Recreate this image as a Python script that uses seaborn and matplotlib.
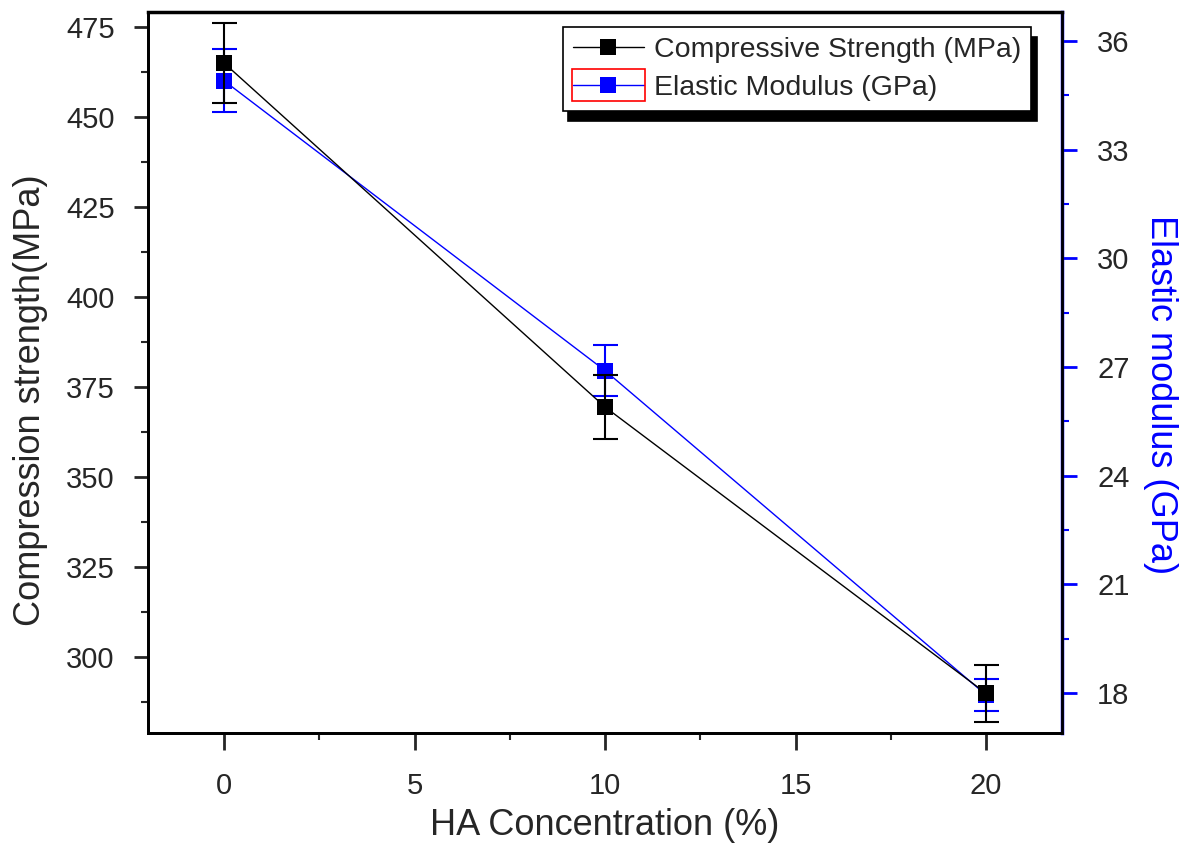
import matplotlib
matplotlib.use("Agg")
import matplotlib.pyplot as plt
import seaborn as sns
import pandas as pd
from matplotlib.ticker import MultipleLocator
from matplotlib.patches import Rectangle

# values
ha_conc = [0, 10, 20]
strength = [465.0, 369.5, 290.0]
strength_err = [11.0, 9.0, 8.0]
modulus = [34.9, 26.9, 17.95]
modulus_err = [0.87, 0.7, 0.45]

df = pd.DataFrame({"HA": ha_conc, "strength": strength, "modulus": modulus})

sns.set_style("ticks")
plt.rcParams["font.family"] = ["Liberation Sans", "DejaVu Sans"]

fig = plt.figure(figsize=(11.83, 8.5), dpi=100)
ax = fig.add_axes([0.125, 0.1376, 0.773, 0.8484])
ax2 = ax.twinx()

sns.lineplot(data=df, x="HA", y="strength", ax=ax, color="black", lw=1.0,
             marker="s", markersize=11, markeredgewidth=0, zorder=3)
ax.errorbar(ha_conc, strength, yerr=strength_err, fmt="none", ecolor="black",
            elinewidth=1.5, capsize=9, capthick=1.5, zorder=3)

sns.lineplot(data=df, x="HA", y="modulus", ax=ax2, color="blue", lw=1.0,
             marker="s", markersize=11, markeredgewidth=0, zorder=3)
ax2.errorbar(ha_conc, modulus, yerr=modulus_err, fmt="none", ecolor="blue",
             elinewidth=1.5, capsize=9, capthick=1.5, zorder=3)

ax.set_xlim(-2, 22)
ax.set_ylim(279, 479.2)
ax2.set_ylim(16.9, 36.8)

ax.xaxis.set_major_locator(MultipleLocator(5))
ax.xaxis.set_minor_locator(MultipleLocator(2.5))
ax.yaxis.set_major_locator(MultipleLocator(25))
ax.yaxis.set_minor_locator(MultipleLocator(12.5))
ax2.yaxis.set_major_locator(MultipleLocator(3))
ax2.yaxis.set_minor_locator(MultipleLocator(1.5))

for a in (ax, ax2):
    for s in a.spines.values():
        s.set_linewidth(2)
        s.set_color("black")
ax2.spines["right"].set_color("blue")
ax2.spines["right"].set_linewidth(2.5)
ax.spines["top"].set_linewidth(2.5)

ax.tick_params(axis="y", which="major", direction="out", length=10, width=2,
               labelsize=21, pad=14)
ax.tick_params(axis="both", which="minor", direction="out", length=5, width=1.5)
ax.tick_params(axis="x", which="major", direction="out", length=12, width=2,
               pad=16, labelsize=21)
ax2.tick_params(axis="y", which="major", direction="out", length=11, width=2,
                color="blue", labelsize=21, pad=14)
ax2.tick_params(axis="y", which="minor", direction="out", length=5, width=1.5,
                color="blue")

ax.set_xlabel("HA Concentration (%)", fontsize=26, labelpad=6)
ax.set_ylabel("Compression strength(MPa)", fontsize=26, va="center")
ax2.set_ylabel("Elastic modulus (GPa)", fontsize=26, color="blue", rotation=270,
               va="center")
ax.yaxis.set_label_coords(-0.128, 0.462)
ax2.yaxis.set_label_coords(1.107, 0.469)

h1 = ax.get_lines()[0]
h2 = ax2.get_lines()[0]
leg = ax.legend([h1, h2], ["Compressive Strength (MPa)", "Elastic Modulus (GPa)"],
                loc="upper right", bbox_to_anchor=(0.966, 0.979), fontsize=20.5,
                frameon=True, fancybox=False, edgecolor="black", framealpha=1,
                handlelength=2.5, borderpad=0.35, labelspacing=0.42,
                handletextpad=0.35, borderaxespad=0.0,
                shadow={"color": "black", "alpha": 1, "ox": 4, "oy": -7})
leg.get_frame().set_linewidth(1.2)
leg.set_zorder(10)
ax.set_zorder(ax2.get_zorder() + 1)
ax.patch.set_visible(False)

# red outline around the second legend handle, as in the original
fig.canvas.draw()
hl = leg.get_lines()[1]
pts = hl.get_transform().transform(hl.get_xydata())
xmin, xmax = pts[:, 0].min(), pts[:, 0].max()
cy = pts[:, 1].mean()
inv = fig.transFigure.inverted()
(x0, y0), (x1, y1) = inv.transform([[xmin - 1, cy - 16], [xmax + 1, cy + 16]])
fig.add_artist(Rectangle((x0, y0), x1 - x0, y1 - y0, transform=fig.transFigure,
                         fill=False, edgecolor="red", lw=1.2, zorder=20))

fig.savefig("out.png", dpi=100)
